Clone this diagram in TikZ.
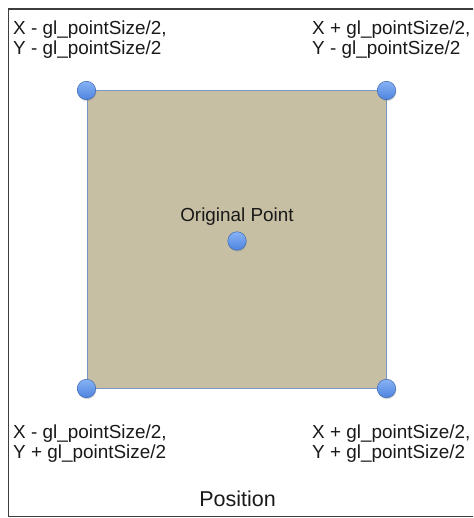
\documentclass[tikz,border=0pt]{standalone}
\usepackage{fontspec}
\setmainfont{Liberation Sans}
\usetikzlibrary{positioning, shadows}
\definecolor{arena}{RGB}{198,191,164}
\definecolor{borde}{RGB}{118,150,200}
\definecolor{punto}{RGB}{78,132,222}
\definecolor{puntoclaro}{RGB}{135,178,245}
\definecolor{marco}{RGB}{60,60,60}
\definecolor{texto}{RGB}{25,25,25}

\begin{document}
\begin{tikzpicture}[
        x=1pt, y=-1pt,
        quadbox/.style={rectangle, draw=borde, line width=1pt, fill=arena, minimum width=299pt, minimum height=297pt, inner sep=0pt},
        dot/.style={circle, draw=punto!80!black, line width=0.5pt, top color=puntoclaro, bottom color=punto, minimum size=18.5pt, inner sep=0pt, drop shadow={opacity=0.3, shadow xshift=0.6pt, shadow yshift=-1.4pt}},
        coord/.style={anchor=north west, inner sep=0pt, align=left, text=texto, font=\fontsize{18.9}{20.5}\selectfont},
        label/.style={anchor=base, inner sep=0pt, text=texto, font=\fontsize{18.9}{22}\selectfont}
    ]
        \useasboundingbox (0,0) rectangle (473,518);
        \clip (0,0) rectangle (473,518);
        \draw[marco, line width=1.6pt] (8.5,9) rectangle (490,516.5);

        \node[quadbox] (quad) at (236.5,239.5) {};

        \node[dot] (tl) at (quad.north west) {};
        \node[dot] (tr) at (quad.north east) {};
        \node[dot] (bl) at (quad.south west) {};
        \node[dot] (br) at (quad.south east) {};
        \node[dot] (orig) at (237,241) {};

        \node[label, above=19pt of orig.center, anchor=base] (origtxt) {Original Point};

        \node[coord] (tltxt) at (13,20.5) {X - gl\_pointSize/2,\\Y - gl\_pointSize/2};
        \node[coord] (trtxt) at (312,20.5) {X + gl\_pointSize/2,\\Y - gl\_pointSize/2};
        \node[coord] (bltxt) at (13,424.5) {X - gl\_pointSize/2,\\Y + gl\_pointSize/2};
        \node[coord] (brtxt) at (312,424.5) {X + gl\_pointSize/2,\\Y + gl\_pointSize/2};

        \node[label, font=\fontsize{21.5}{24}\selectfont] (postxt) at (237.5,506.5) {Position};
    \end{tikzpicture}
\end{document}
